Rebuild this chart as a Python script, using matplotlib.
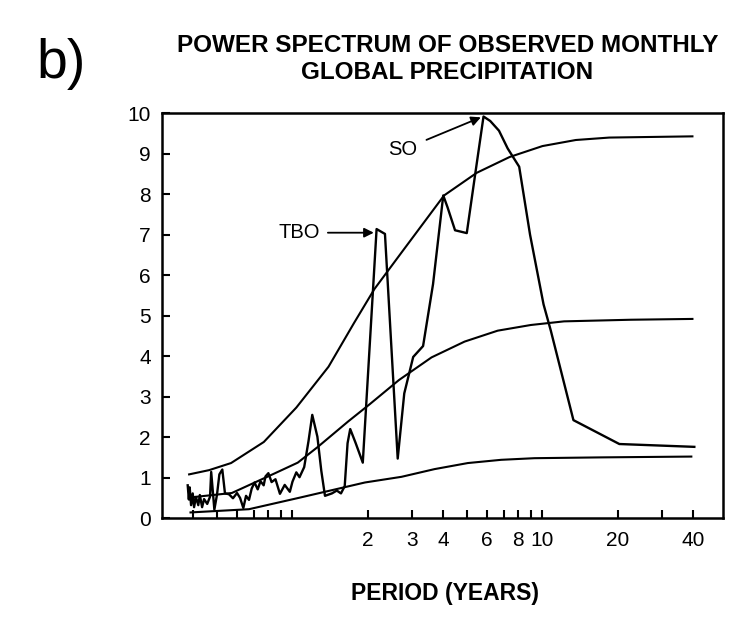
import matplotlib
matplotlib.use("Agg")
import matplotlib.pyplot as plt

# ---- data ----
spec_period = [0.381, 0.385, 0.388, 0.393, 0.399, 0.404, 0.411, 0.420, 0.426, 0.435,
               0.443, 0.456, 0.468, 0.473, 0.487, 0.499, 0.510, 0.524, 0.537, 0.557,
               0.578, 0.600, 0.617, 0.636, 0.652, 0.670, 0.687, 0.705, 0.726, 0.745,
               0.767, 0.780, 0.801, 0.825, 0.855, 0.891, 0.931, 0.976, 1.000, 1.036,
               1.067, 1.114, 1.159, 1.200, 1.258, 1.304, 1.349, 1.438, 1.504, 1.563,
               1.618, 1.661, 1.702, 1.788, 1.911, 2.17, 2.344, 2.636, 2.80, 3.04,
               3.33, 3.65, 4.01, 4.17, 4.47, 4.98, 5.38, 5.81, 6.18, 6.70,
               7.26, 8.07, 8.92, 10.1, 10.8, 13.3, 20.3, 40.5]
spec_power = [0.81, 0.46, 0.76, 0.32, 0.61, 0.27, 0.52, 0.32, 0.57, 0.27,
              0.47, 0.35, 0.53, 1.14, 0.21, 0.58, 1.08, 1.20, 0.61, 0.59,
              0.49, 0.62, 0.50, 0.25, 0.55, 0.45, 0.73, 0.88, 0.71, 0.91,
              0.81, 1.03, 1.11, 0.89, 0.96, 0.60, 0.82, 0.65, 0.90, 1.13,
              1.01, 1.26, 1.90, 2.55, 2.01, 1.17, 0.55, 0.61, 0.68, 0.61,
              0.79, 1.85, 2.20, 1.86, 1.37, 7.14, 7.02, 1.47, 3.08, 3.98,
              4.25, 5.78, 7.97, 7.68, 7.11, 7.04, 8.49, 9.92, 9.81, 9.57,
              9.13, 8.68, 7.00, 5.28, 4.63, 2.42, 1.83, 1.76]

upper_period = [0.386, 0.464, 0.568, 0.768, 1.036, 1.394, 1.763, 2.128, 2.745, 4.04,
                5.46, 7.39, 10.0, 13.6, 18.5, 39.8]
upper_power = [1.08, 1.185, 1.36, 1.88, 2.73, 3.74, 4.82, 5.66, 6.58, 7.97,
               8.53, 8.92, 9.19, 9.34, 9.40, 9.43]

middle_period = [0.389, 0.572, 0.849, 1.05, 1.258, 1.672, 2.034, 2.666, 3.60, 4.88,
                 6.62, 8.98, 12.2, 22.6, 39.8]
middle_power = [0.51, 0.62, 1.105, 1.37, 1.75, 2.39, 2.81, 3.41, 3.97, 4.36,
                4.63, 4.77, 4.86, 4.90, 4.92]

lower_period = [0.391, 0.67, 1.06, 1.95, 2.73, 3.70, 5.03, 6.84, 9.29, 17.2, 39.4]
lower_power = [0.14, 0.22, 0.50, 0.88, 1.02, 1.21, 1.36, 1.44, 1.48, 1.50, 1.52]

x_ticks = [0.4, 0.5, 0.6, 0.7, 0.8, 0.9, 1.0, 2, 3, 4, 5, 6, 7, 8, 9, 10, 20, 30, 40]
x_tick_labels = ["", "", "", "", "", "", "", "2", "3", "4", "", "6", "", "8", "", "10", "20", "", "40"]
y_ticks = [0, 1, 2, 3, 4, 5, 6, 7, 8, 9, 10]

title = "POWER SPECTRUM OF OBSERVED MONTHLY\nGLOBAL PRECIPITATION"
xlabel = "PERIOD (YEARS)"
panel = "b)"

# ---- drawing ----
plt.rcParams['font.family'] = ['Liberation Sans', 'DejaVu Sans']

fig = plt.figure(figsize=(7.42, 6.19), dpi=100)
ax = fig.add_axes([0.218, 0.163, 0.756, 0.654])

lw = 1.5
ax.plot(upper_period, upper_power, color='black', lw=lw)
ax.plot(middle_period, middle_power, color='black', lw=lw)
ax.plot(lower_period, lower_power, color='black', lw=lw)
ax.plot(spec_period, spec_power, color='black', lw=1.7)

ax.set_xscale('log')
ax.set_xlim(0.30, 52.6)
ax.set_ylim(0, 10)

ax.xaxis.set_minor_locator(matplotlib.ticker.NullLocator())
ax.set_xticks(x_ticks)
ax.set_xticklabels(x_tick_labels)
ax.xaxis.set_minor_formatter(matplotlib.ticker.NullFormatter())
ax.set_yticks(y_ticks)
ax.set_yticklabels([str(v) for v in y_ticks])

ax.tick_params(axis='both', direction='in', length=6, width=1.5,
               labelsize=15, pad=8)
ax.tick_params(axis='x', pad=9)
ax.tick_params(top=False, right=False)
for sp in ax.spines.values():
    sp.set_linewidth(1.8)

# annotations
ax.annotate("TBO", xy=(2.115, 7.05), xytext=(1.06, 7.05),
            ha='center', va='center', fontsize=14.5,
            arrowprops=dict(arrowstyle='-|>', color='black', lw=1.3,
                            mutation_scale=14, shrinkA=4, shrinkB=0))
ax.annotate("SO", xy=(5.67, 9.9), xytext=(2.76, 9.1),
            ha='center', va='center', fontsize=14.5,
            arrowprops=dict(arrowstyle='-|>', color='black', lw=1.3,
                            mutation_scale=14, shrinkA=5, shrinkB=0))

fig.text(0.603, 0.905, title, ha='center', va='center', fontsize=17.5,
         fontweight='bold', linespacing=1.25)
fig.text(0.083, 0.897, panel, ha='center', va='center', fontsize=40)
fig.text(0.600, 0.042, xlabel, ha='center', va='center', fontsize=16.5,
         fontweight='bold')

fig.savefig("out.png", dpi=100)
